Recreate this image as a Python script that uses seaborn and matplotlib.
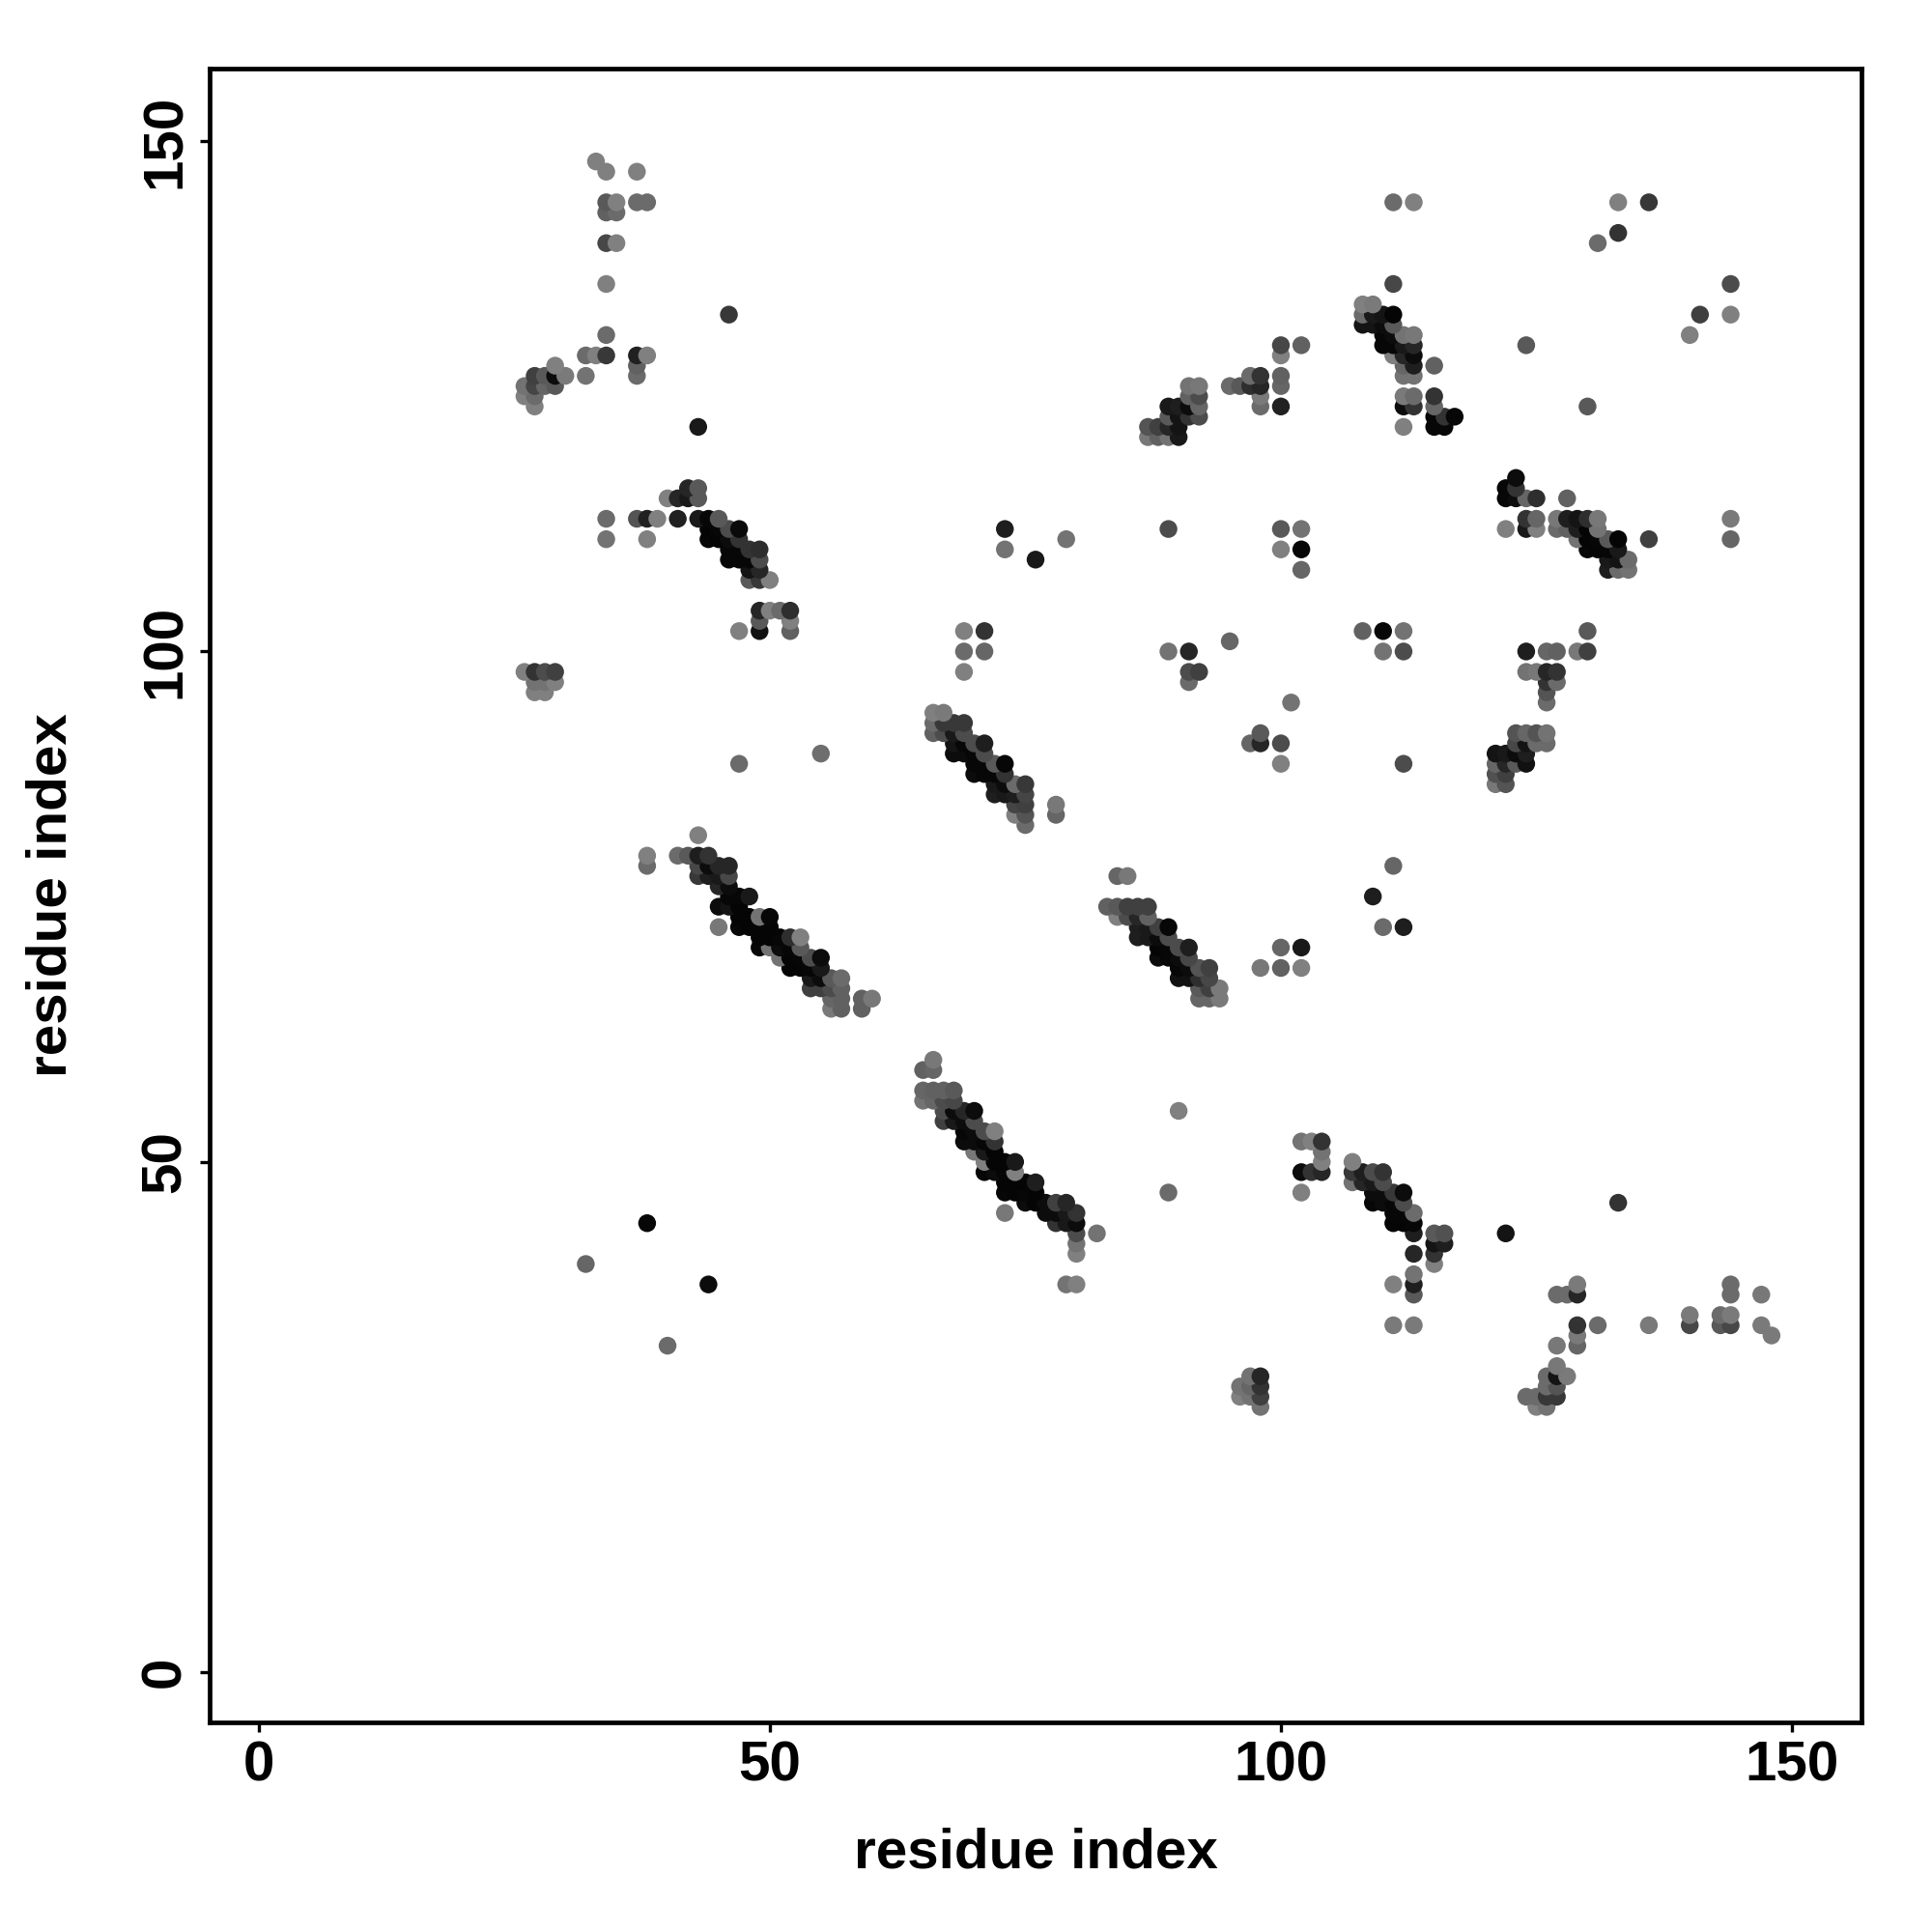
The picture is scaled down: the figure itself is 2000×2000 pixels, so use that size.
import matplotlib
matplotlib.use("Agg")
import matplotlib.pyplot as plt
import pandas as pd
import seaborn as sns

# each contact: (residue x, residue y, grey shade)
upper_left = [(33,148,.5),(34,147,.5),(37,147,.5),(34,144,.35),(35,144,.5),(37,144,.42),(38,144,.42),
 (34,143,.38),(35,143,.42),(34,140,.28),(35,140,.5),(34,136,.5),(34,131,.42),(32,129,.42),(33,129,.5),(34,129,.22),
 (37,129,.13),(38,129,.5),(37,128,.38),(37,127,.42),(32,127,.45),(46,133,.22),(43,122,.1),
 (29,128,.5),(30,127,.48),(29,127,.05),(27,127,.25),(28,127,.35),(26,126,.45),(27,126,.27),(28,126,.4),(29,126,.35),
 (26,125,.5),(27,125,.42),(27,124,.5)]
strand_a = [(37,113,.33),(38,113,.13),(39,113,.5),(38,111,.5),(40,115,.5),(41,115,.15),(42,116,.15),(43,116,.35),
 (42,115,.1),(43,115,.35),(41,113,.13),(43,113,.1),(44,113,.03),(45,113,.35),(44,112,.02),(45,112,.03),(46,112,.3),(47,112,.04),
 (44,111,.03),(45,111,.02),(46,111,.05),(47,111,.2),(46,110,.03),(47,110,.03),(48,110,.2),(49,110,.18),
 (46,109,.03),(47,109,.03),(48,109,.03),(49,109,.3),(48,108,.08),(49,108,.15),(48,107,.35),(49,107,.22),(50,107,.5),
 (49,104,.15),(50,104,.5),(51,104,.42),(52,104,.18),(49,103,.35),(52,103,.5),(47,102,.5),(49,102,.07),(52,102,.38),
 (55,90,.43),(47,89,.42),(34,113,.42),(34,111,.45)]
patch_left = [(26,98,.5),(27,98,.2),(28,98,.3),(29,98,.25),(27,97,.45),(28,97,.45),(29,97,.5),(27,96,.5),(28,96,.5)]
helix_a = [(43,82,.5),(38,80,.5),(38,79,.42),(41,80,.42),(42,80,.35),(43,80,.12),(44,80,.2),(43,79,.28),(44,79,.05),(45,79,.15),(46,79,.15),
 (43,78,.22),(44,78,.12),(45,78,.1),(46,78,.28),(45,77,.15),(46,77,.05),(46,76,.03),(47,76,.03),(48,76,.1),
 (45,75,.05),(46,75,.08),(47,75,.02),(47,74,.02),(48,74,.02),(49,74,.45),(50,74,.03),(47,73,.03),(48,73,.02),(49,73,.02),(50,73,.02),(45,73,.47),
 (49,72,.02),(50,72,.02),(51,72,.03),(52,72,.18),(53,72,.5),(49,71,.03),(50,71,.45),(51,71,.05),(52,71,.03),(53,71,.35),
 (51,70,.45),(52,70,.02),(53,70,.03),(54,70,.3),(55,70,.05),(52,69,.02),(53,69,.02),(54,69,.03),(55,69,.1),
 (54,68,.1),(55,68,.05),(56,68,.35),(57,68,.42),(54,67,.25),(55,67,.25),(56,67,.3),(57,67,.38),
 (56,66,.4),(57,66,.38),(59,66,.38),(60,66,.47),(56,65,.48),(57,65,.38),(59,65,.38)]
helix_b = [(66,94,.5),(67,94,.48),(66,93,.42),(67,93,.22),(68,93,.22),(69,93,.22),(66,92,.38),(67,92,.3),(68,92,.1),(69,92,.3),
 (68,91,.08),(69,91,.03),(70,91,.3),(71,91,.12),(68,90,.05),(69,90,.05),(70,90,.03),(71,90,.3),
 (70,89,.03),(71,89,.03),(72,89,.35),(73,89,.03),(70,88,.05),(71,88,.03),(72,88,.03),(73,88,.2),
 (72,87,.1),(73,87,.05),(74,87,.42),(75,87,.22),(72,86,.12),(73,86,.1),(74,86,.12),(75,86,.27),
 (74,85,.27),(75,85,.25),(74,84,.5),(75,84,.33),(75,83,.42),(78,85,.47),(78,84,.4),
 (69,102,.5),(71,102,.2),(69,100,.42),(71,100,.4),(69,98,.5)]
helix_c = [(66,60,.47),(65,59,.38),(66,59,.4),(65,57,.4),(66,57,.38),(67,57,.38),(68,57,.35),(65,56,.45),(66,56,.4),(67,56,.3),(68,56,.28),
 (67,55,.3),(68,55,.05),(69,55,.15),(70,55,.05),(67,54,.25),(68,54,.1),(69,54,.05),(70,54,.3),
 (69,53,.03),(70,53,.05),(71,53,.3),(72,53,.5),(69,52,.05),(70,52,.05),(71,52,.03),(72,52,.2),
 (70,51,.47),(71,51,.1),(72,51,.02),(71,50,.5),(72,50,.02),(73,50,.02),(74,50,.1),(71,49,.03),(72,49,.05),(73,49,.02),(74,49,.5),
 (73,48,.02),(74,48,.02),(75,48,.02),(76,48,.12),(73,47,.03),(74,47,.02),(75,47,.03),(76,47,.02),(73,45,.47),
 (75,46,.05),(76,46,.02),(77,46,.05),(78,46,.25),(79,46,.15),(77,45,.05),(78,45,.05),(79,45,.1),(80,45,.2),
 (78,44,.2),(79,44,.1),(80,44,.05),(82,43,.45),(80,43,.3),(80,42,.45),(80,41,.5),(79,38,.45),(80,38,.5)]
helix_d = [(107,50,.5),(107,49,.22),(107,48,.45),(108,49,.12),(108,48,.15),(109,49,.3),(110,49,.2),(109,48,.1),(110,48,.3),
 (109,47,.05),(110,47,.05),(111,47,.22),(112,47,.05),(109,46,.03),(110,46,.05),(111,46,.03),(112,46,.3),
 (111,45,.03),(112,45,.03),(113,45,.42),(111,44,.02),(112,44,.02),(113,44,.03),(113,43,.12),(113,41,.15),
 (113,39,.45),(113,38,.12),(113,37,.35),(111,38,.5),(111,34,.48),(113,34,.48),(115,43,.35),(116,43,.32),
 (115,42,.08),(116,42,.12),(115,41,.2),(115,40,.5),
 (102,52,.45),(103,52,.5),(104,52,.2),(104,51,.45),(104,50,.5),(102,49,.05),(103,49,.2),(104,49,.15),(102,47,.5)]
helix_e = [(84,78,.4),(85,78,.47),(83,75,.38),(84,75,.35),(85,75,.25),(86,75,.25),(87,75,.25),(84,74,.5),(85,74,.3),(86,74,.15),(87,74,.38),
 (86,73,.12),(87,73,.1),(88,73,.25),(89,73,.03),(86,72,.12),(87,72,.1),(88,72,.05),(89,72,.3),
 (88,71,.02),(89,71,.03),(90,71,.3),(91,71,.12),(88,70,.05),(89,70,.03),(90,70,.05),(91,70,.28),
 (90,69,.03),(91,69,.05),(92,69,.33),(93,69,.25),(90,68,.07),(91,68,.07),(92,68,.18),(93,68,.28),
 (92,67,.35),(93,67,.25),(94,67,.48),(92,66,.4),(93,66,.4),(94,66,.48)]
helix_f = [(111,136,.28),(108,134,.5),(109,134,.48),(108,133,.42),(109,133,.1),(110,133,.08),(111,133,.02),
 (108,132,.08),(109,132,.08),(110,132,.05),(111,132,.35),(110,131,.03),(111,131,.05),(112,131,.45),(113,131,.47),
 (110,130,.03),(111,130,.03),(112,130,.1),(113,130,.15),(111,129,.5),(112,129,.15),(113,129,.05),
 (112,128,.4),(113,128,.12),(115,128,.38),(112,127,.45),(113,127,.45),(112,125,.48),(113,125,.42),(115,125,.2),
 (112,124,.05),(113,124,.2),(115,124,.4),(115,123,.03),(116,123,.2),(117,123,.03),(115,122,.03),(116,122,.03),(112,122,.5)]
strand_b = [(100,130,.28),(102,130,.38),(100,129,.5),(97,127,.42),(98,127,.2),(100,127,.38),(95,126,.42),(96,126,.35),(97,126,.18),(98,126,.15),(100,126,.4),
 (98,125,.48),(98,124,.42),(100,124,.13),(91,126,.45),(92,126,.47),(91,125,.38),(92,125,.3),
 (89,124,.1),(90,124,.12),(91,124,.05),(92,124,.4),(89,123,.35),(90,123,.08),(91,123,.2),(92,123,.3),
 (87,122,.33),(88,122,.25),(89,122,.15),(90,122,.08),(87,121,.47),(88,121,.38),(89,121,.45),(90,121,.1)]
helix_g = [(123,117,.05),(122,116,.03),(123,116,.2),(122,115,.03),(123,115,.05),(124,115,.4),(125,115,.18),(128,115,.38),
 (124,113,.2),(125,113,.4),(127,113,.47),(128,113,.12),(129,113,.08),(130,113,.18),(131,113,.47),
 (122,112,.5),(124,112,.1),(125,112,.5),(127,112,.42),(128,112,.38),(129,112,.12),(130,112,.02),(131,112,.45),
 (129,111,.45),(130,111,.02),(131,111,.03),(132,111,.35),(133,111,.02),(136,111,.25),
 (130,110,.03),(131,110,.02),(132,110,.03),(133,110,.1),(132,109,.1),(133,109,.08),(134,109,.42),
 (132,108,.12),(133,108,.42),(134,108,.45)]
strand_c = [(130,102,.35),(124,100,.12),(126,100,.4),(127,100,.38),(129,100,.47),(130,100,.25),(124,98,.45),(125,98,.47),(126,98,.15),(127,98,.2),
 (126,97,.2),(127,97,.42),(126,96,.33),(126,95,.42),(123,92,.33),(124,92,.4),(125,92,.33),(126,92,.45),
 (123,91,.28),(124,91,.08),(125,91,.42),(126,91,.42),(121,90,.08),(122,90,.1),(123,90,.05),(124,90,.12),
 (121,89,.4),(122,89,.15),(123,89,.35),(124,89,.07),(121,88,.32),(122,88,.25),(121,87,.47),(122,87,.33)]
lower_right = [(129,38,.48),(127,37,.42),(128,37,.42),(129,37,.15),(129,34,.2),(131,34,.42),(136,34,.48),(140,35,.48),(140,34,.28),
 (143,35,.42),(144,35,.48),(143,34,.35),(144,34,.28),(144,38,.42),(144,37,.42),(147,37,.47),(147,34,.48),(148,33,.48),
 (129,33,.48),(129,32,.4),(127,32,.47),(127,30,.47),(126,29,.42),(127,29,.08),(128,29,.48),(126,28,.42),(127,28,.33),
 (124,27,.42),(125,27,.42),(126,27,.22),(127,27,.22),(125,26,.5),(126,26,.45)]
patch_low = [(97,29,.45),(98,29,.15),(96,28,.45),(97,28,.4),(98,28,.2),(96,27,.5),(97,27,.45),(98,27,.25),(98,26,.45)]
scattered = [(38,44,.03),(32,40,.4),(44,38,.05),(40,32,.42),(89,47,.42),(90,55,.5),(122,43,.08),(133,46,.2),
 (111,144,.42),(113,144,.5),(133,144,.5),(136,144,.22),(133,141,.2),(131,140,.42),(124,130,.35),(130,124,.35),
 (144,136,.3),(141,133,.25),(144,133,.5),(140,131,.5),(144,113,.48),(144,111,.4),
 (73,112,.12),(73,110,.45),(76,109,.1),(79,111,.45),(89,112,.3),(100,112,.35),(102,112,.45),(100,110,.5),(102,110,.03),(102,108,.4),
 (108,102,.38),(110,102,.03),(112,102,.45),(110,100,.45),(112,100,.3),(89,100,.45),(91,100,.15),(91,98,.3),(92,98,.25),(91,97,.42),
 (95,101,.4),(101,95,.45),(98,92,.35),(97,91,.4),(98,91,.15),(100,91,.3),(100,89,.5),(112,89,.3),
 (111,79,.4),(109,76,.12),(110,73,.42),(112,73,.12),(100,71,.4),(102,71,.1),(98,69,.47),(100,69,.38),(102,69,.5)]

tick_values = [0, 50, 100, 150]
axis_title = "residue index"

contacts = (upper_left + strand_a + patch_left + helix_a + helix_b + helix_c + helix_d + helix_e
            + helix_f + strand_b + helix_g + strand_c + lower_right + patch_low + scattered)
df = pd.DataFrame(contacts, columns=["x", "y", "shade"]).sort_values(["y", "x"])

sns.set_theme(style="white")
plt.rcParams["font.family"] = ["Liberation Sans", "DejaVu Sans"]
plt.rcParams["font.weight"] = "bold"

fig = plt.figure(figsize=(10, 10), dpi=200)
ax = fig.add_axes([217/2000, (2000-1783)/2000, (1927-217)/2000, (1783-71)/2000])
sns.scatterplot(data=df, x="x", y="y", hue="shade", palette="gray", hue_norm=(0, 1),
                s=44, linewidth=0, legend=False, ax=ax, clip_on=True)
ax.set_xlim(-4.8, 156.8)
ax.set_ylim(-4.9, 157.1)
ax.set_xticks(tick_values)
ax.set_yticks(tick_values)
ax.tick_params(axis="both", which="major", length=3.6, width=1.2, color="black",
               labelsize=21, labelcolor="black", pad=3, bottom=True, left=True)
for lab in ax.get_yticklabels():
    lab.set_rotation(90)
    lab.set_va("center")
ax.set_xlabel(axis_title, fontsize=21, fontweight="bold", color="black")
ax.set_ylabel(axis_title, fontsize=21, fontweight="bold", color="black")
ax.xaxis.set_label_coords(0.5, -0.0635)
ax.yaxis.set_label_coords(-0.080, 0.5)
ax.grid(False)
for sp in ax.spines.values():
    sp.set_color("black")
    sp.set_linewidth(1.7)
fig.savefig("out.png", dpi=200, facecolor="white")
